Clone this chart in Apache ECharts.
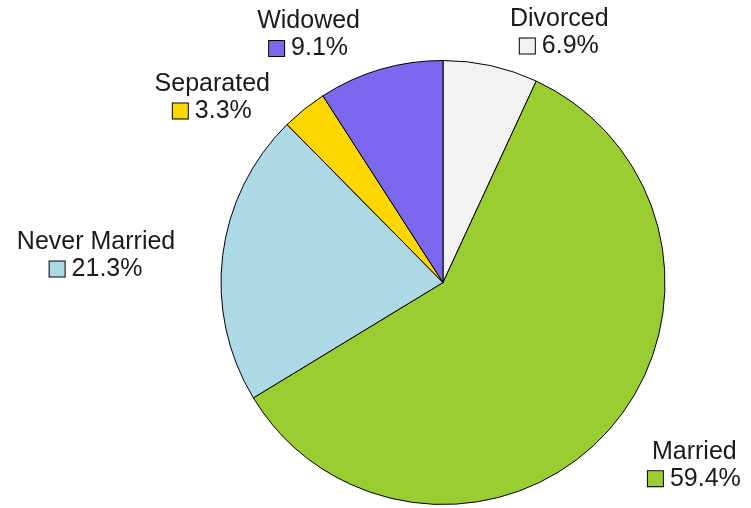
<!DOCTYPE html>
<html>
<head>
<meta charset="utf-8">
<script src="https://cdn.jsdelivr.net/npm/echarts@6/dist/echarts.min.js"></script>
<style>
html,body{margin:0;padding:0;background:#fff;}
#chart{width:751px;height:508px;}
</style>
</head>
<body>
<div id="chart"></div>
<script>
// Data (clockwise from top)
const categories = ['Divorced', 'Married', 'Never Married', 'Separated', 'Widowed'];
const values = [6.9, 59.4, 21.3, 3.3, 9.1];
const colors = ['#f2f2f2', '#9acd32', '#add8e6', '#ffd700', '#7b68ee'];

// Label placement styling (radial length, horizontal length) per slice
const labelLen = [35.5, 50, 11, 17, 37.5];
const labelLen2 = [11.6, 2, 36.5, 23.6, 9.8];

const chart = echarts.init(document.getElementById('chart'), null, {renderer: 'canvas'});

const FONT = '"Liberation Sans", Arial, sans-serif';
const rich = {
  n: {fontSize: 25, fontFamily: FONT, color: '#1a1a1a', lineHeight: 27, align: 'center'},
  p: {fontSize: 25, fontFamily: FONT, color: '#1a1a1a', lineHeight: 27, align: 'center', padding: [0, 0, 0, 7]}
};
categories.forEach((c, i) => {
  rich['b' + i] = {width: 15, height: 15, backgroundColor: colors[i], borderColor: '#000', borderWidth: 1, align: 'center', verticalAlign: 'middle'};
});

const data = categories.map((name, i) => ({
  name: name,
  value: values[i],
  itemStyle: {color: colors[i]},
  labelLine: {show: false, length: labelLen[i], length2: labelLen2[i]},
  label: {
    formatter: '{n|' + name + '}\n{b' + i + '|}{p|' + values[i].toFixed(1) + '%}'
  }
}));

chart.setOption({
  animation: false,
  backgroundColor: '#ffffff',
  series: [{
    type: 'pie',
    center: [443, 282.5],
    radius: 222,
    startAngle: 90,
    clockwise: true,
    avoidLabelOverlap: false,
    silent: true,
    itemStyle: {borderColor: '#000', borderWidth: 1},
    label: {
      show: true,
      position: 'outside',
      distanceToLabelLine: 0,
      rich: rich
    },
    labelLayout: {dy: 1.5},
    labelLine: {show: false},
    emphasis: {disabled: true},
    data: data
  }]
});
</script>
</body>
</html>
